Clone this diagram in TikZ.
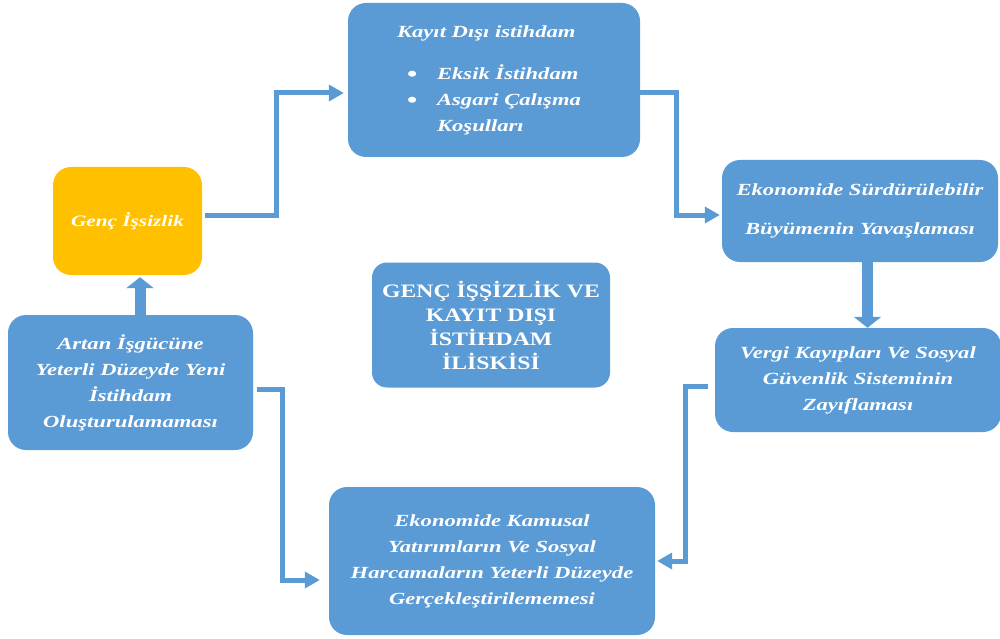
\documentclass[tikz,border=0pt]{standalone}
\usepackage{fontspec}
\setmainfont{Liberation Serif}
\newfontfamily\bfont[FakeStretch=1.33]{Liberation Serif}
\newfontfamily\cfont[FakeStretch=1.25]{Liberation Serif}
\usetikzlibrary{arrows.meta}
\definecolor{boxblue}{RGB}{91,155,213}
\definecolor{boxyellow}{RGB}{255,192,0}
\newcommand{\bigbul}{\makebox[30pt][l]{\raisebox{-2.5pt}{\upshape\fontsize{22}{22}\selectfont\textbullet}}}
\begin{document}
\begin{tikzpicture}[x=1pt,y=-1pt,
  box/.style={fill=boxblue, rounded corners=18pt, text=white,
    font=\bfont\bfseries\itshape\fontsize{17}{26}\selectfont,
    align=center, inner sep=0pt},
  conn/.style={draw=boxblue, line width=5pt, -{Triangle[length=15pt,width=16pt]}},
  big/.style={draw=boxblue, line width=11pt, -{Triangle[length=11pt,width=27pt]}}]
\useasboundingbox[fill=white] (0,0) rectangle (1000,639);

\node[box, minimum width=292pt, minimum height=154pt, align=left] (kayit) at (494,80)
  {\hspace*{-10pt}Kay\i t D\i\c s\i{} istihdam\\[16pt]
   \bigbul Eksik \.Istihdam\\
   \bigbul Asgari \c Cal\i\c sma\hspace*{28pt}\\
   \hspace*{30pt}Ko\c sullar\i};

\node[box, fill=boxyellow, minimum width=149pt, minimum height=108pt] (genc) at (127.5,221)
  {\fontsize{16}{26}\selectfont Gen\c c \.I\c ssizlik};

\node[box, minimum width=245pt, minimum height=135pt] (artan) at (130.5,382.5)
  {Artan \.I\c sg\"uc\"une\\Yeterli D\"uzeyde Yeni\\\.Istihdam\\Olu\c sturulamamas\i};

\node[box, minimum width=276pt, minimum height=102pt] (ekon) at (860,211)
  {Ekonomide S\"urd\"ur\"ulebilir\\[13pt]B\"uy\"umenin Yava\c slamas\i};

\node[box, minimum width=286pt, minimum height=104pt] (vergi) at (858,380)
  {Vergi Kay\i plar\i{} Ve Sosyal\\G\"uvenlik Sisteminin\\Zay\i flamas\i};

\node[box, minimum width=326pt, minimum height=148pt] (kamu) at (492,561)
  {Ekonomide Kamusal\\Yat\i r\i mlar\i n Ve Sosyal\\Harcamalar\i n Yeterli D\"uzeyde\\Ger\c cekle\c stirilememesi};

\node[box, rounded corners=15pt, minimum width=238pt, minimum height=125pt,
  font=\cfont\bfseries\fontsize{19}{24}\selectfont] (merkez) at (491,325)
  {GEN\c C \.I\c S\c S\.IZL\.IK VE\\KAYIT DI\c SI\\\.IST\.IHDAM\\\.IL\.ISK\.IS\.I};

\draw[conn] ([xshift=3pt,yshift=6pt]genc.east) -- (276,215) |- ([xshift=-4pt,yshift=-13pt]kayit.west);
\draw[conn] ([yshift=-13pt]kayit.east) -- (676,93) |- ([xshift=-2pt,yshift=-4pt]ekon.west);
\draw[big] ([xshift=7.5pt]ekon.south) -- ([xshift=9.5pt]vergi.north);
\draw[conn] ([xshift=-7pt,yshift=-6pt]vergi.west) -- (685,386) |- ([xshift=2pt]kamu.east);
\draw[conn] ([xshift=4pt,yshift=-6.5pt]artan.east) -- (282,389) |- ([xshift=-9pt,yshift=-19pt]kamu.west);
\draw[big] ([xshift=9.5pt]artan.north) -- ([xshift=12.5pt,yshift=-2pt]genc.south);
\end{tikzpicture}
\end{document}
